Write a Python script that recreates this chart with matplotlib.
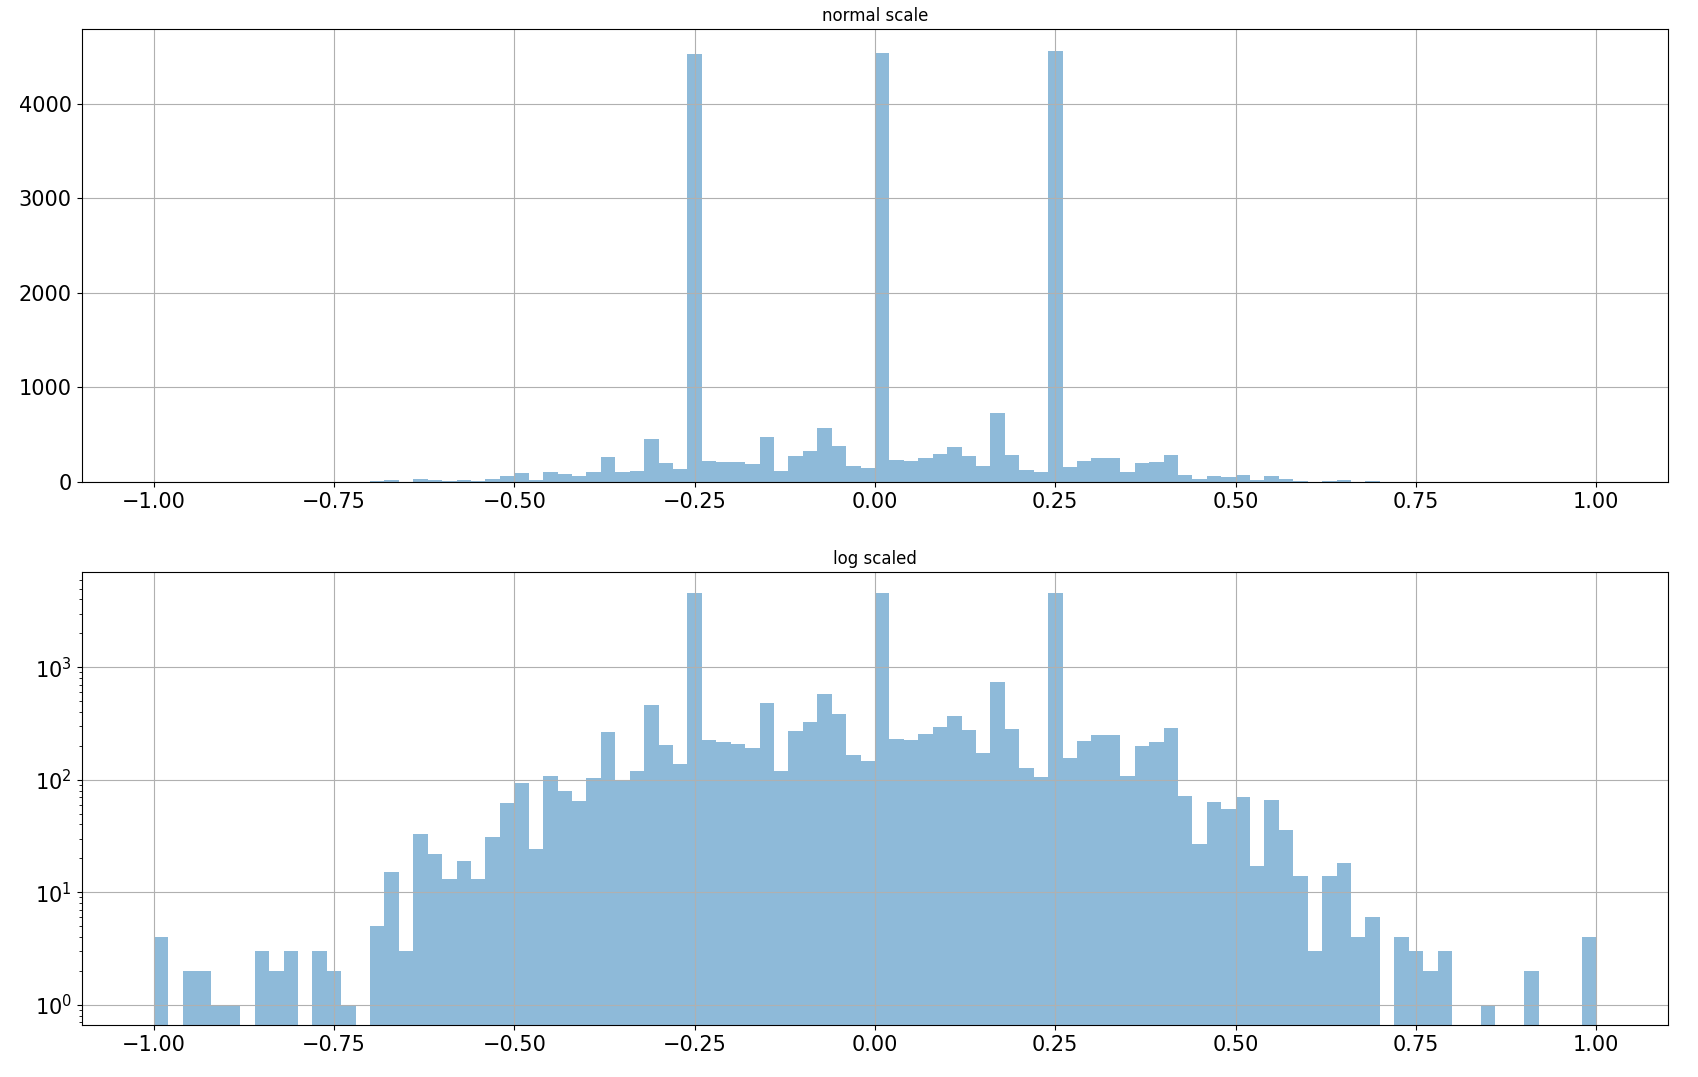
"""
    Histogram of values, normal and log scaled
"""
import numpy as np
import matplotlib
matplotlib.use('Agg')
import matplotlib.pyplot as plt

# 100 bins of width 0.02 between -1 and 1
bin_edges = np.linspace(-1.0, 1.0, 101)
counts = [4, 0, 2, 2, 1, 1, 0, 3, 2, 3,
          0, 3, 2, 1, 0, 5, 15, 3, 33, 22,
          13, 19, 13, 31, 62, 93, 24, 107, 80, 65,
          103, 264, 100, 119, 458, 203, 138, 4520, 224, 215,
          207, 190, 477, 119, 269, 324, 574, 381, 165, 148,
          4540, 228, 224, 253, 292, 366, 275, 171, 733, 280,
          126, 105, 4560, 155, 219, 248, 248, 107, 198, 215,
          286, 71, 27, 63, 55, 70, 17, 66, 36, 14,
          3, 14, 18, 4, 6, 0, 4, 3, 2, 3,
          0, 0, 1, 0, 0, 2, 0, 0, 0, 4]
titles = ['normal scale', 'log scaled']

centers = (bin_edges[:-1] + bin_edges[1:]) / 2

fig, axes = plt.subplots(2, 1, figsize=(16.99, 10.77), dpi=100)
fig.subplots_adjust(left=0.048, right=0.982, top=0.973, bottom=0.048, hspace=0.2)

for ax, title, log in zip(axes, titles, [False, True]):
    ax.hist(centers, bins=bin_edges, weights=counts, alpha=0.5, log=log)
    ax.set_title(title)
    ax.grid(True)
    ax.tick_params(labelsize=15)
    ax.set_xticks(np.arange(-1.0, 1.01, 0.25))

fig.savefig('out.png')
